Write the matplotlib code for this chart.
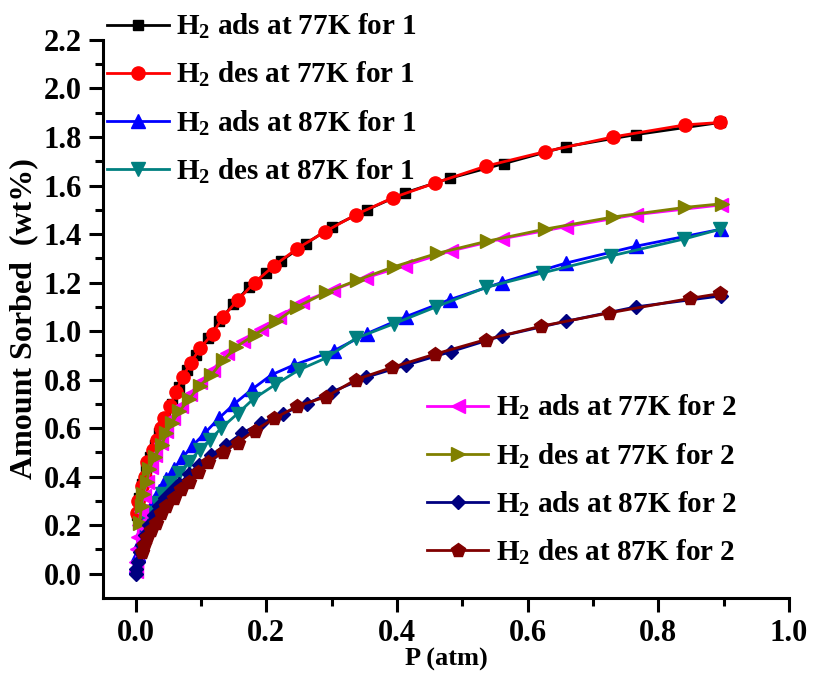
import numpy as np
import matplotlib
matplotlib.use("Agg")
import matplotlib.pyplot as plt

plt.rcParams['font.family'] = 'Liberation Serif'
plt.rcParams['font.weight'] = 'bold'
plt.rcParams['mathtext.fontset'] = 'custom'
plt.rcParams['mathtext.rm'] = 'Liberation Serif:bold'
plt.rcParams['mathtext.it'] = 'Liberation Serif:bold'
plt.rcParams['mathtext.bf'] = 'Liberation Serif:bold'

# ---- compound 1, 77 K ----
ads77_1_p = [0.002, 0.005, 0.010, 0.016, 0.022, 0.029, 0.036, 0.045, 0.055, 0.066, 0.079, 0.093,
             0.110, 0.128, 0.149, 0.173, 0.200, 0.223, 0.260, 0.301, 0.354, 0.412, 0.481, 0.563,
             0.658, 0.766, 0.895]
ads77_1_w = [0.24, 0.31, 0.37, 0.43, 0.48, 0.53, 0.58, 0.64, 0.70, 0.77, 0.84, 0.90,
             0.97, 1.04, 1.11, 1.18, 1.24, 1.29, 1.36, 1.43, 1.50, 1.57, 1.63, 1.69,
             1.76, 1.81, 1.86]
des77_1_p = [0.0015, 0.003, 0.009, 0.014, 0.018, 0.026, 0.032, 0.038, 0.044, 0.053, 0.061, 0.072,
             0.084, 0.099, 0.118, 0.134, 0.157, 0.182, 0.212, 0.247, 0.290, 0.337, 0.394, 0.458,
             0.536, 0.627, 0.730, 0.841, 0.895]
des77_1_w = [0.25, 0.30, 0.36, 0.40, 0.46, 0.51, 0.55, 0.60, 0.64, 0.69, 0.75, 0.81,
             0.87, 0.93, 0.99, 1.06, 1.13, 1.20, 1.27, 1.34, 1.41, 1.48, 1.55, 1.61,
             1.68, 1.74, 1.80, 1.85, 1.86]

# ---- compound 1, 87 K ----
ads87_1_p = [0.001, 0.003, 0.006, 0.010, 0.015, 0.021, 0.028, 0.036, 0.046, 0.058, 0.072, 0.088,
             0.106, 0.127, 0.151, 0.178, 0.208, 0.242, 0.304, 0.354, 0.414, 0.481, 0.560, 0.658,
             0.766, 0.896]
ads87_1_w = [0.03, 0.08, 0.13, 0.18, 0.22, 0.26, 0.30, 0.34, 0.39, 0.43, 0.48, 0.53,
             0.58, 0.64, 0.70, 0.76, 0.82, 0.86, 0.92, 0.99, 1.06, 1.13, 1.20, 1.28,
             1.35, 1.42]
des87_1_p = [0.011, 0.017, 0.024, 0.032, 0.041, 0.053, 0.067, 0.081, 0.098, 0.113, 0.131, 0.156,
             0.180, 0.214, 0.250, 0.292, 0.337, 0.395, 0.460, 0.536, 0.623, 0.728, 0.840, 0.895]
des87_1_w = [0.19, 0.22, 0.25, 0.29, 0.33, 0.375, 0.415, 0.46, 0.51, 0.55, 0.60, 0.66,
             0.72, 0.78, 0.84, 0.89, 0.97, 1.03, 1.10, 1.18, 1.24, 1.31, 1.38, 1.42]

# ---- compound 2, 77 K ----
ads77_2_p = [0.0005, 0.001, 0.002, 0.003, 0.005, 0.008, 0.012, 0.017, 0.023, 0.030, 0.038, 0.047,
             0.057, 0.069, 0.083, 0.099, 0.118, 0.140, 0.165, 0.192, 0.220, 0.255, 0.302, 0.353,
             0.412, 0.482, 0.560, 0.658, 0.766, 0.896]
ads77_2_w = [0.01, 0.05, 0.10, 0.15, 0.20, 0.26, 0.32, 0.38, 0.44, 0.49, 0.54, 0.59,
             0.64, 0.69, 0.74, 0.79, 0.84, 0.91, 0.96, 1.01, 1.06, 1.12, 1.17, 1.22,
             1.27, 1.33, 1.38, 1.43, 1.48, 1.52]
des77_2_p = [0.006, 0.009, 0.011, 0.017, 0.021, 0.029, 0.040, 0.047, 0.055, 0.067, 0.082, 0.098,
             0.116, 0.134, 0.154, 0.182, 0.215, 0.247, 0.292, 0.339, 0.395, 0.461, 0.537, 0.626,
             0.730, 0.841, 0.898]
des77_2_w = [0.21, 0.28, 0.33, 0.38, 0.43, 0.48, 0.53, 0.58, 0.62, 0.67, 0.72, 0.775,
             0.82, 0.88, 0.935, 0.985, 1.04, 1.10, 1.16, 1.21, 1.265, 1.32, 1.37, 1.42,
             1.47, 1.51, 1.525]

# ---- compound 2, 87 K ----
ads87_2_p = [0.0005, 0.001, 0.003, 0.006, 0.010, 0.015, 0.021, 0.028, 0.036, 0.045, 0.055, 0.067,
             0.081, 0.097, 0.116, 0.138, 0.163, 0.192, 0.225, 0.262, 0.301, 0.353, 0.414, 0.482,
             0.560, 0.658, 0.766, 0.896]
ads87_2_w = [0.0, 0.02, 0.05, 0.09, 0.12, 0.16, 0.20, 0.24, 0.28, 0.31, 0.34, 0.37,
             0.41, 0.45, 0.49, 0.53, 0.58, 0.62, 0.66, 0.70, 0.75, 0.81, 0.86, 0.915,
             0.98, 1.04, 1.10, 1.145]
des87_2_p = [0.009, 0.012, 0.017, 0.023, 0.031, 0.038, 0.047, 0.058, 0.069, 0.082, 0.096, 0.111,
             0.133, 0.156, 0.182, 0.212, 0.247, 0.292, 0.337, 0.392, 0.458, 0.536, 0.620, 0.725,
             0.849, 0.895]
des87_2_w = [0.09, 0.12, 0.15, 0.18, 0.21, 0.25, 0.28, 0.31, 0.35, 0.38, 0.42, 0.46,
             0.50, 0.54, 0.59, 0.64, 0.69, 0.73, 0.80, 0.85, 0.905, 0.965, 1.02, 1.075,
             1.135, 1.155]

fig = plt.figure(figsize=(8.13, 6.83), dpi=100)
ax = fig.add_axes([0.1267, 0.1245, 0.8438, 0.817])

h1 = []
h1 += ax.plot(ads77_1_p, ads77_1_w, '-s', color='black', ms=7.5, lw=2, label='H$_2$ ads at 77K for 1')
h1 += ax.plot(des77_1_p, des77_1_w, '-o', color='red', ms=9.5, lw=2, label='H$_2$ des at 77K for 1')
h1 += ax.plot(ads87_1_p, ads87_1_w, '-^', color='blue', ms=9.5, lw=2, label='H$_2$ ads at 87K for 1')
h1 += ax.plot(des87_1_p, des87_1_w, '-v', color='#008080', ms=9.5, lw=2, label='H$_2$ des at 87K for 1')
h2 = []
h2 += ax.plot(ads77_2_p, ads77_2_w, '-<', color='#FF00FF', ms=9.5, lw=2, label='H$_2$ ads at 77K for 2')
h2 += ax.plot(des77_2_p, des77_2_w, '->', color='#808000', ms=9.5, lw=2, label='H$_2$ des at 77K for 2')
h2 += ax.plot(ads87_2_p, ads87_2_w, '-D', color='#000080', ms=7.5, lw=2, label='H$_2$ ads at 87K for 2')
h2 += ax.plot(des87_2_p, des87_2_w, '-p', color='#800000', ms=10, lw=2, label='H$_2$ des at 87K for 2')

ax.set_xlim(-0.05, 1.0)
ax.set_ylim(-0.1, 2.2)
ax.set_xticks(np.arange(0, 1.01, 0.2))
ax.set_xticks(np.arange(0.1, 1.0, 0.2), minor=True)
ax.set_yticks(np.arange(0, 2.21, 0.2))
ax.set_yticks(np.arange(0.1, 2.2, 0.2), minor=True)
ax.xaxis.set_major_formatter(matplotlib.ticker.FormatStrFormatter('%.1f'))
ax.yaxis.set_major_formatter(matplotlib.ticker.FormatStrFormatter('%.1f'))

for s in ['top', 'right']:
    ax.spines[s].set_visible(False)
for s in ['left', 'bottom']:
    ax.spines[s].set_linewidth(2.2)
ax.tick_params(which='major', direction='out', length=10, width=2.2, labelsize=22, pad=5)
ax.tick_params(which='minor', direction='out', length=6, width=2.2)

ax.set_xlabel('P (atm)', fontsize=19, fontweight='bold', labelpad=0)
ax.set_ylabel('Amount Sorbed  (wt%)', fontsize=23, fontweight='bold', labelpad=4)

prop = {'family': 'Liberation Serif', 'weight': 'bold', 'size': 21}
leg1 = ax.legend(handles=h1, loc='upper left', bbox_to_anchor=(-0.032, 1.097), frameon=False,
                 prop=prop, handlelength=2.1, handletextpad=0.25, labelspacing=0.65)
ax.add_artist(leg1)
ax.legend(handles=h2, loc='upper left', bbox_to_anchor=(0.434, 0.414), frameon=False,
          prop=prop, handlelength=2.1, handletextpad=0.25, labelspacing=0.65)

fig.savefig('out.png', dpi=100)
